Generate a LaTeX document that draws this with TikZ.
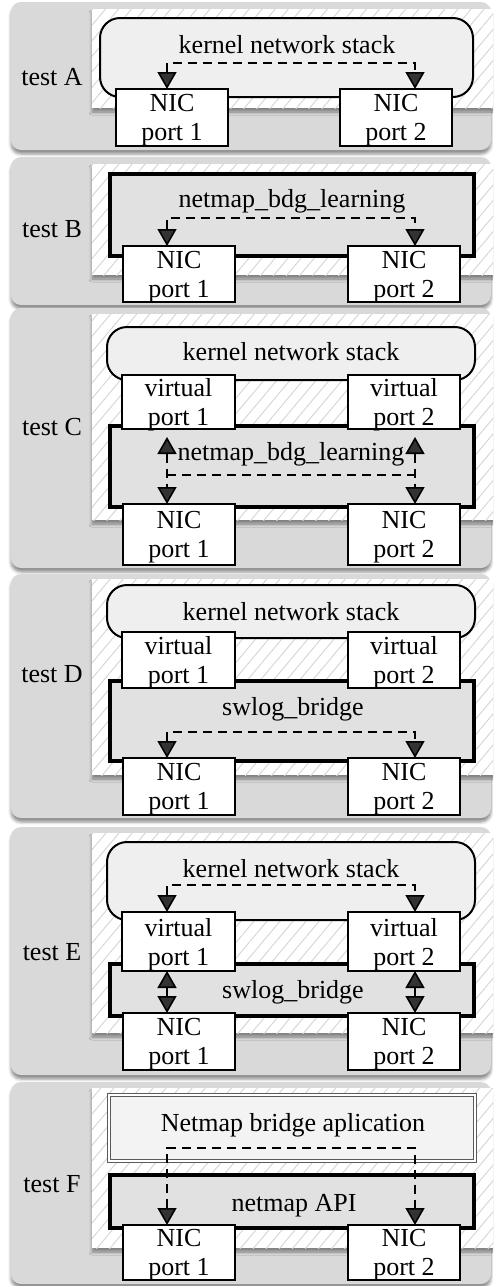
\documentclass[tikz,border=0pt]{standalone}
\usepackage{fontspec}
\setmainfont{Liberation Serif}
\usetikzlibrary{arrows.meta,patterns.meta,shadows.blur,calc}

\definecolor{panelgray}{HTML}{D9D9D9}
\definecolor{hatchgray}{HTML}{D4D4D4}
\definecolor{stackfill}{HTML}{EFEFEF}
\definecolor{bridgefill}{HTML}{E1E1E1}
\definecolor{appfill}{HTML}{F3F3F3}
\definecolor{appline}{HTML}{5A5A5A}

% box placed by its corner coordinates: style, name, x1, y1, x2, y2, text
\newcommand\boxnode[7]{%
  \node[#1, minimum width={#5-#3}, minimum height={#6-#4}] (#2)
    at ({(#3+#5)/2},{(#4+#6)/2}) {#7};}

\tikzset{
  panelbg/.style={fill=panelgray, rounded corners=10pt,
    blur shadow={shadow xshift=0pt, shadow yshift=-4pt,
      shadow blur radius=3pt, shadow opacity=45}},
  hatchzone/.style={fill=white,
    blur shadow={shadow xshift=0pt, shadow yshift=-4pt,
      shadow blur radius=3pt, shadow opacity=40},
    postaction={pattern={Lines[angle=50,distance=10pt,line width=0.9pt]},
      pattern color=hatchgray}},
  stackbox/.style={draw, line width=2pt, fill=stackfill,
    rounded corners=20pt, inner sep=0pt, outer sep=0pt},
  bridgebox/.style={draw, line width=4.6pt, fill=bridgefill,
    inner sep=0pt, outer sep=0pt},
  appbox/.style={draw=appline, line width=0.9pt, double=white,
    double distance=1.6pt, fill=appfill, inner sep=0pt, outer sep=0pt},
  portbox/.style={draw, line width=1.6pt, fill=white, inner sep=0pt,
    outer sep=0pt, align=center, text depth=0pt},
  capt/.style={anchor=base, inner sep=0pt},
  testlabel/.style={anchor=base, inner sep=0pt},
  solidlink/.style={line width=1.6pt},
  dashlink/.style={line width=1.6pt, dash pattern=on 9pt off 6pt},
  twoway/.style={arrows={Triangle[width=19pt,length=17pt]-Triangle[width=19pt,length=17pt]}}
}

\begin{document}
\begin{tikzpicture}[x=1pt, y=-1pt, font=\fontsize{26}{29}\selectfont]
\useasboundingbox (0,0) rectangle (493,1286);
\clip (0,0) rectangle (493,1286);

% ---------------- test A ----------------
\fill[panelbg] (11,2) rectangle (491,150);
\path[hatchzone] (92,9) rectangle (505,108);
\boxnode{stackbox}{a-stack}{100}{18}{473}{97}{}
\node[capt] (a-stack-t) at (287,53) {kernel network stack};
\boxnode{portbox}{a-nic1}{116}{89}{228}{146}{NIC\\port 1}
\boxnode{portbox}{a-nic2}{340}{89}{452}{146}{NIC\\port 2}
\coordinate (a-l) at (167,63);
\coordinate (a-r) at (415,63);
\draw[dashlink, twoway] (a-l |- a-nic1.north) -- (a-l) -- (a-r) -- (a-r |- a-nic2.north);
\node[testlabel] (a-lab) at (52,85) {test A};

% ---------------- test B ----------------
\fill[panelbg] (11,157) rectangle (491,305);
\path[hatchzone] (92,164) rectangle (505,275);
\boxnode{bridgebox}{b-bridge}{110}{174}{474}{256}{}
\node[capt] (b-bridge-t) at (292,207) {netmap\_bdg\_learning};
\boxnode{portbox}{b-nic1}{123}{246}{235}{302}{NIC\\port 1}
\boxnode{portbox}{b-nic2}{348}{246}{460}{302}{NIC\\port 2}
\coordinate (b-l) at (167,218);
\coordinate (b-r) at (415,218);
\draw[dashlink, twoway] (b-l |- b-nic1.north) -- (b-l) -- (b-r) -- (b-r |- b-nic2.north);
\node[testlabel] (b-lab) at (52,237) {test B};

% ---------------- test C ----------------
\fill[panelbg] (11,308) rectangle (491,568);
\path[hatchzone] (92,314) rectangle (505,520);
\boxnode{stackbox}{c-stack}{107}{327}{475}{380}{}
\node[capt] (c-stack-t) at (291,360) {kernel network stack};
\boxnode{bridgebox}{c-bridge}{110}{426}{474}{507}{}
\node[capt] (c-bridge-t) at (291,460) {netmap\_bdg\_learning};
\boxnode{portbox}{c-virt1}{122}{375}{235}{429}{virtual\\port 1}
\boxnode{portbox}{c-virt2}{348}{375}{460}{429}{virtual\\port 2}
\boxnode{portbox}{c-nic1}{123}{504}{235}{565}{NIC\\port 1}
\boxnode{portbox}{c-nic2}{348}{504}{460}{565}{NIC\\port 2}
\coordinate (c-l) at (167,475);
\coordinate (c-r) at (415,475);
\draw[dashlink, twoway] ($(c-l |- c-virt1.south)+(0,8)$) -- (c-l |- c-nic1.north);
\draw[dashlink, twoway] ($(c-r |- c-virt2.south)+(0,8)$) -- (c-r |- c-nic2.north);
\draw[dashlink] (c-l) -- (c-r);
\node[testlabel] (c-lab) at (52,435) {test C};

% ---------------- test D ----------------
\fill[panelbg] (11,574) rectangle (491,818);
\path[hatchzone] (92,579) rectangle (505,775);
\boxnode{stackbox}{d-stack}{107}{585}{475}{638}{}
\node[capt] (d-stack-t) at (291,620) {kernel network stack};
\boxnode{bridgebox}{d-bridge}{110}{681}{474}{761}{}
\node[capt] (d-bridge-t) at (293,715) {swlog\_bridge};
\boxnode{portbox}{d-virt1}{122}{632}{235}{688}{virtual\\port 1}
\boxnode{portbox}{d-virt2}{348}{632}{460}{688}{virtual\\port 2}
\boxnode{portbox}{d-nic1}{123}{758}{235}{815}{NIC\\port 1}
\boxnode{portbox}{d-nic2}{348}{758}{460}{815}{NIC\\port 2}
\coordinate (d-l) at (167,732);
\coordinate (d-r) at (415,732);
\draw[dashlink, twoway] (d-l |- d-nic1.north) -- (d-l) -- (d-r) -- (d-r |- d-nic2.north);
\node[testlabel] (d-lab) at (52,682) {test D};

% ---------------- test E ----------------
\fill[panelbg] (11,827) rectangle (491,1075);
\path[hatchzone] (92,833) rectangle (505,1033);
\boxnode{stackbox}{e-stack}{107}{842}{475}{920}{}
\node[capt] (e-stack-t) at (291,877) {kernel network stack};
\boxnode{bridgebox}{e-bridge}{110}{964}{474}{1016}{}
\node[capt] (e-bridge-t) at (293,998) {swlog\_bridge};
\boxnode{portbox}{e-virt1}{122}{912}{235}{971}{virtual\\port 1}
\boxnode{portbox}{e-virt2}{348}{912}{460}{971}{virtual\\port 2}
\boxnode{portbox}{e-nic1}{123}{1013}{235}{1070}{NIC\\port 1}
\boxnode{portbox}{e-nic2}{348}{1013}{460}{1070}{NIC\\port 2}
\coordinate (e-l) at (167,885);
\coordinate (e-r) at (415,885);
\draw[dashlink, twoway] (e-l |- e-virt1.north) -- (e-l) -- (e-r) -- (e-r |- e-virt2.north);
\draw[solidlink, twoway] (e-l |- e-virt1.south) -- (e-l |- e-nic1.north);
\draw[solidlink, twoway] (e-r |- e-virt2.south) -- (e-r |- e-nic2.north);
\node[testlabel] (e-lab) at (52,960) {test E};

% ---------------- test F ----------------
\fill[panelbg] (11,1082) rectangle (491,1284);
\path[hatchzone] (92,1088) rectangle (505,1248);
\boxnode{appbox}{f-app}{109}{1095}{475}{1161}{}
\node[capt] (f-app-t) at (293,1131) {Netmap bridge aplication};
\boxnode{bridgebox}{f-api}{110}{1175}{474}{1228}{}
\node[capt] (f-api-t) at (294,1211) {netmap API};
\boxnode{portbox}{f-nic1}{123}{1225}{235}{1280}{NIC\\port 1}
\boxnode{portbox}{f-nic2}{348}{1225}{460}{1280}{NIC\\port 2}
\coordinate (f-l) at (167,1148);
\coordinate (f-r) at (415,1148);
\draw[dashlink, twoway] (f-l |- f-nic1.north) -- (f-l) -- (f-r) -- (f-r |- f-nic2.north);
\node[testlabel] (f-lab) at (52,1192) {test F};
\end{tikzpicture}
\end{document}
